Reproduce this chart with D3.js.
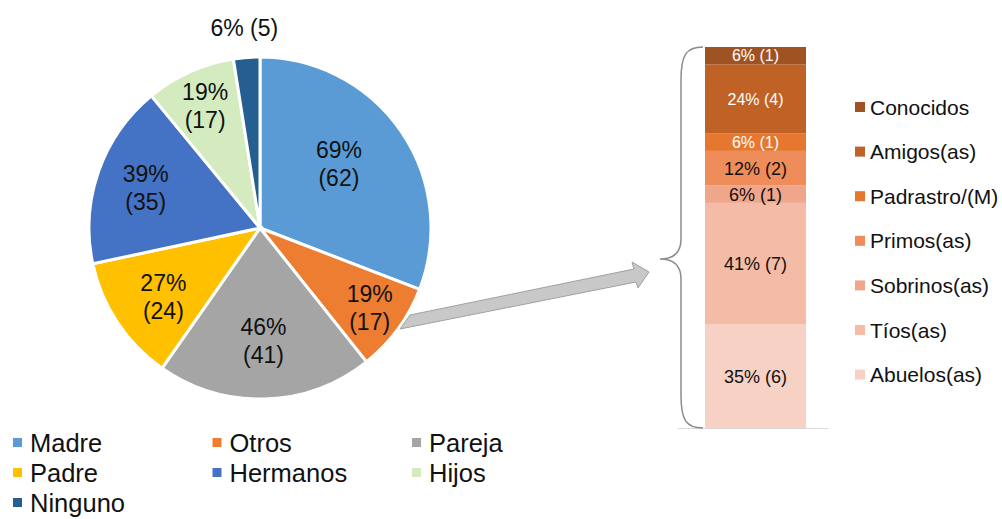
<!DOCTYPE html>
<html>
<head>
<meta charset="utf-8">
<script src="https://cdn.jsdelivr.net/npm/d3@7"></script>
<style>
  body { margin: 0; background: #fff; }
  text { font-family: "Liberation Sans", Arial, sans-serif; }
</style>
</head>
<body>
<script>
// pie data
var pieCategories = ["Madre", "Otros", "Pareja", "Padre", "Hermanos", "Hijos", "Ninguno"];
var pieCounts = [62, 17, 41, 24, 35, 17, 5];
var piePercents = [69, 19, 46, 27, 39, 19, 6];
var pieColors = ["#5B9BD5", "#ED7D31", "#A5A5A5", "#FFC000", "#4472C4", "#D3EBBE", "#255E91"];

// breakdown of "Otros" (bottom to top)
var barCategories = ["Abuelos(as)", "Tíos(as)", "Sobrinos(as)", "Primos(as)", "Padrastro/(M)", "Amigos(as)", "Conocidos"];
var barCounts = [6, 7, 1, 2, 1, 4, 1];
var barPercents = [35, 41, 6, 12, 6, 24, 6];
var barColors = ["#F7D1C4", "#F4BBA6", "#F0A68A", "#EE8C5A", "#E5772F", "#C06126", "#9F5322"];

var w = 1002, h = 519;
var svg = d3.select("body").append("svg")
  .attr("width", w)
  .attr("height", h);

// ---- pie ----
var cx = 260, cy = 228, r = 171;
var pie = d3.pie().sort(null).value(function(d){ return d.count; });
var pieData = pieCategories.map(function(c, i){
  return {name: c, count: pieCounts[i], pct: piePercents[i], color: pieColors[i]};
});
var arcs = pie(pieData);
var arc = d3.arc().innerRadius(0).outerRadius(r);

var g = svg.append("g").attr("transform", "translate(" + cx + "," + cy + ")");
g.selectAll("path").data(arcs).enter().append("path")
  .attr("d", arc)
  .attr("fill", function(d){ return d.data.color; })
  .attr("stroke", "#fff")
  .attr("stroke-width", 3);

// label distance from the centre for each slice (excel "best fit")
var labelR = {Madre: 103, Otros: 136, Pareja: 113, Padre: 116, Hermanos: 121, Hijos: 134, Ninguno: 201};
arcs.forEach(function(d){
  var a = (d.startAngle + d.endAngle) / 2;
  var lr = labelR[d.data.name];
  var x = lr * Math.sin(a), y = -lr * Math.cos(a);
  if (d.data.name === "Madre") { x -= 6; y -= 6; }
  if (d.data.name === "Padre") { y += 5; }
  if (d.data.name === "Ninguno") {
    g.append("text").attr("x", x).attr("y", y + 8)
      .attr("text-anchor", "middle").attr("font-size", 23).attr("fill", "#111")
      .text(d.data.pct + "% (" + d.data.count + ")");
  } else {
    var t = g.append("text").attr("text-anchor", "middle").attr("font-size", 23).attr("fill", "#111");
    t.append("tspan").attr("x", x).attr("y", y - 6).text(d.data.pct + "%");
    t.append("tspan").attr("x", x).attr("y", y + 22).text("(" + d.data.count + ")");
  }
});

// ---- arrow ----
svg.append("path")
  .attr("d", "M400,329 L636,282 L638,288 L649,272 L632,262 L634,269 L410,315 Z")
  .attr("fill", "#C8C8C8")
  .attr("stroke", "#A0A0A0")
  .attr("stroke-width", 1);

// ---- stacked bar ----
var barX = 705, barW = 101, barTop = 47, barBottom = 428;
var y = d3.scaleLinear().domain([0, d3.sum(barCounts)]).range([barBottom, barTop]);
var cum = 0;
var barData = barCategories.map(function(c, i){
  var d = {name: c, count: barCounts[i], pct: barPercents[i], color: barColors[i], y0: cum, y1: cum + barCounts[i]};
  cum += barCounts[i];
  return d;
});

svg.append("g").selectAll("rect").data(barData).enter().append("rect")
  .attr("x", barX)
  .attr("width", barW)
  .attr("y", function(d){ return y(d.y1); })
  .attr("height", function(d){ return y(d.y0) - y(d.y1); })
  .attr("fill", function(d){ return d.color; });

svg.append("g").selectAll("text").data(barData).enter().append("text")
  .attr("x", barX + barW / 2)
  .attr("y", function(d){ return (y(d.y0) + y(d.y1)) / 2; })
  .attr("dy", "0.36em")
  .attr("text-anchor", "middle")
  .attr("font-size", function(d, i){ return i >= 4 ? 16 : 18; })
  .attr("fill", function(d, i){ return i >= 4 ? "#fff" : "#111"; })
  .text(function(d){ return d.pct + "% (" + d.count + ")"; });

// baseline
svg.append("line")
  .attr("x1", 678).attr("x2", 828)
  .attr("y1", barBottom + 0.5).attr("y2", barBottom + 0.5)
  .attr("stroke", "#D9D9D9");

// curly brace
var mid = 259;
svg.append("path")
  .attr("d", "M703," + barTop + " C686," + barTop + " 681,55 681,80 L681," + (mid - 20) +
             " C681," + (mid - 5) + " 672," + mid + " 660," + mid +
             " C672," + mid + " 681," + (mid + 5) + " 681," + (mid + 20) +
             " L681,395 C681,420 686," + barBottom + " 703," + barBottom)
  .attr("fill", "none")
  .attr("stroke", "#8C8C8C")
  .attr("stroke-width", 1.5);

// right legend (top to bottom)
var legR = svg.append("g");
barData.slice().reverse().forEach(function(d, i){
  var ly = 107 + i * 44.6;
  legR.append("rect").attr("x", 855).attr("y", ly - 5).attr("width", 10).attr("height", 10).attr("fill", d.color);
  legR.append("text").attr("x", 870).attr("y", ly).attr("dy", "0.36em")
    .attr("font-size", 21).attr("fill", "#111").text(d.name);
});

// bottom legend
var legB = svg.append("g");
pieData.forEach(function(d, i){
  var col = i % 3, row = Math.floor(i / 3);
  var lx = 13 + col * 199.5, ly = 443 + row * 30;
  legB.append("rect").attr("x", lx).attr("y", ly - 5).attr("width", 9).attr("height", 9).attr("fill", d.color);
  legB.append("text").attr("x", lx + 17).attr("y", ly).attr("dy", "0.36em")
    .attr("font-size", 25.5).attr("fill", "#111").text(d.name);
});
</script>
</body>
</html>
